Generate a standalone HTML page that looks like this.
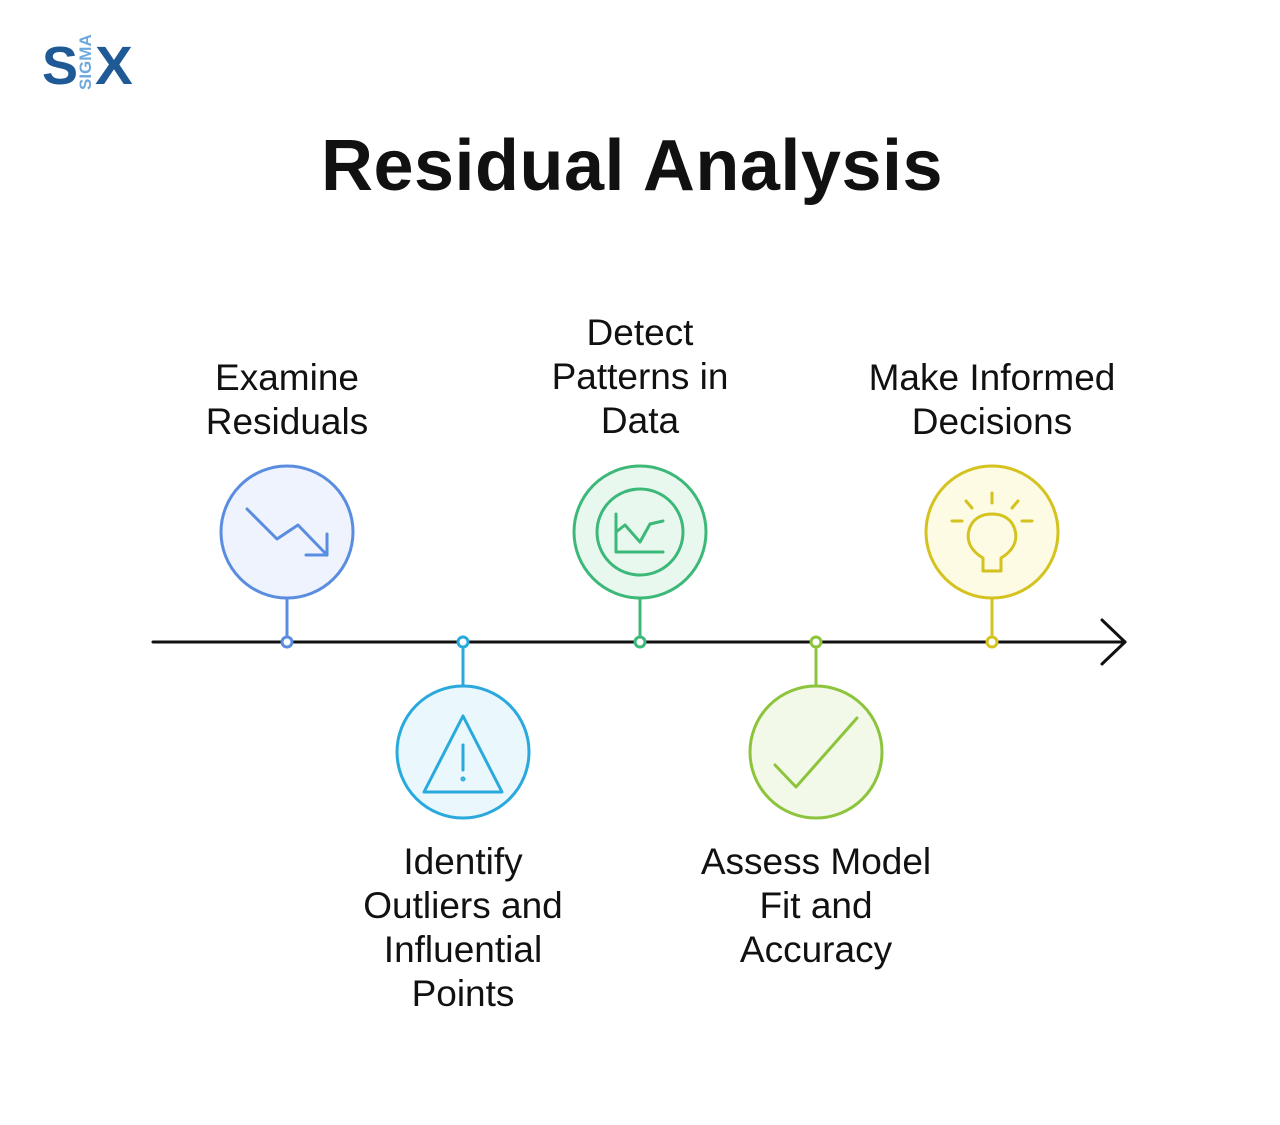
<!DOCTYPE html>
<html><head><meta charset="utf-8"><style>
html,body{margin:0;padding:0;background:#fff;}
body{width:1280px;height:1125px;position:relative;overflow:hidden;font-family:"Liberation Sans",sans-serif;}
.t{position:absolute;text-align:center;font-size:37px;line-height:44px;color:#111;width:340px;}
</style></head><body>
<div style="position:absolute;left:42px;top:36px;font-weight:bold;font-size:54px;color:#1f5a96;line-height:60px;">S</div>
<div style="position:absolute;left:95px;top:36px;font-weight:bold;font-size:54px;color:#1f5a96;line-height:60px;transform:scaleX(1.05);transform-origin:left;">X</div>
<div style="position:absolute;left:63px;top:58px;width:46px;height:18px;transform:rotate(-90deg);transform-origin:center;font-weight:bold;font-size:17px;color:#6fa8dc;line-height:18px;text-align:center;">SIGMA</div>
<div style="position:absolute;left:-8px;width:1280px;top:126px;text-align:center;font-weight:bold;font-size:72px;line-height:80px;color:#111;letter-spacing:0.5px;">Residual Analysis</div>
<div class="t" style="left:117px;top:356px">Examine<br>Residuals</div>
<div class="t" style="left:470px;top:311px">Detect<br>Patterns in<br>Data</div>
<div class="t" style="left:822px;top:356px">Make Informed<br>Decisions</div>
<div class="t" style="left:293px;top:840px">Identify<br>Outliers and<br>Influential<br>Points</div>
<div class="t" style="left:646px;top:840px">Assess Model<br>Fit and<br>Accuracy</div>
<svg width="1280" height="1125" style="position:absolute;left:0;top:0" fill="none" stroke-width="3" stroke-linecap="round" stroke-linejoin="round">
<line x1="153" y1="642" x2="1125" y2="642" stroke="#111"/>
<polyline points="1102,620 1125,642 1102,664" stroke="#111"/>
<line x1="287" y1="598" x2="287" y2="642" stroke="#5a8de0"/>
<circle cx="287" cy="532" r="66" fill="#eef3fd" stroke="#5a8de0"/>
<circle cx="287" cy="642" r="5" fill="#fff" stroke="#5a8de0"/>
<polyline points="247,509 277,539 298,525 327,555" stroke="#5a8de0"/>
<polyline points="327,534 327,555 306,555" stroke="#5a8de0"/>
<line x1="463" y1="642" x2="463" y2="686" stroke="#29a9dc"/>
<circle cx="463" cy="752" r="66" fill="#eaf7fd" stroke="#29a9dc"/>
<circle cx="463" cy="642" r="5" fill="#fff" stroke="#29a9dc"/>
<path d="M463,716 L502,792 L424,792 Z" stroke="#29a9dc"/>
<line x1="463" y1="745" x2="463" y2="770" stroke="#29a9dc"/>
<circle cx="463" cy="779" r="1" stroke="#29a9dc"/>
<line x1="640" y1="598" x2="640" y2="642" stroke="#3cb878"/>
<circle cx="640" cy="532" r="66" fill="#e9f8ef" stroke="#3cb878"/>
<circle cx="640" cy="532" r="43" stroke="#3cb878"/>
<circle cx="640" cy="642" r="5" fill="#fff" stroke="#3cb878"/>
<polyline points="616,514 616,552 663,552" stroke="#3cb878"/>
<polyline points="616,532 625,525 640,542 650,524 663,521" stroke="#3cb878"/>
<line x1="816" y1="642" x2="816" y2="686" stroke="#8cc43c"/>
<circle cx="816" cy="752" r="66" fill="#f3f9e8" stroke="#8cc43c"/>
<circle cx="816" cy="642" r="5" fill="#fff" stroke="#8cc43c"/>
<polyline points="775,765 796,787 857,718" stroke="#8cc43c"/>
<line x1="992" y1="598" x2="992" y2="642" stroke="#d4c21e"/>
<circle cx="992" cy="532" r="66" fill="#fdfbe4" stroke="#d4c21e"/>
<circle cx="992" cy="642" r="5" fill="#fff" stroke="#d4c21e"/>
<g stroke="#d4c21e">
<line x1="992" y1="493" x2="992" y2="503"/>
<line x1="966" y1="501" x2="972" y2="508"/>
<line x1="1018" y1="501" x2="1012" y2="508"/>
<line x1="952" y1="521" x2="962" y2="521"/>
<line x1="1022" y1="521" x2="1032" y2="521"/>
<path d="M983,571 L1001,571 L1001,558 C1013,551 1018,541 1015,530 C1012,519 1003,514 992,514 C981,514 972,519 969,530 C966,541 971,551 983,558 Z"/>
</g>
</svg>
</body></html>
